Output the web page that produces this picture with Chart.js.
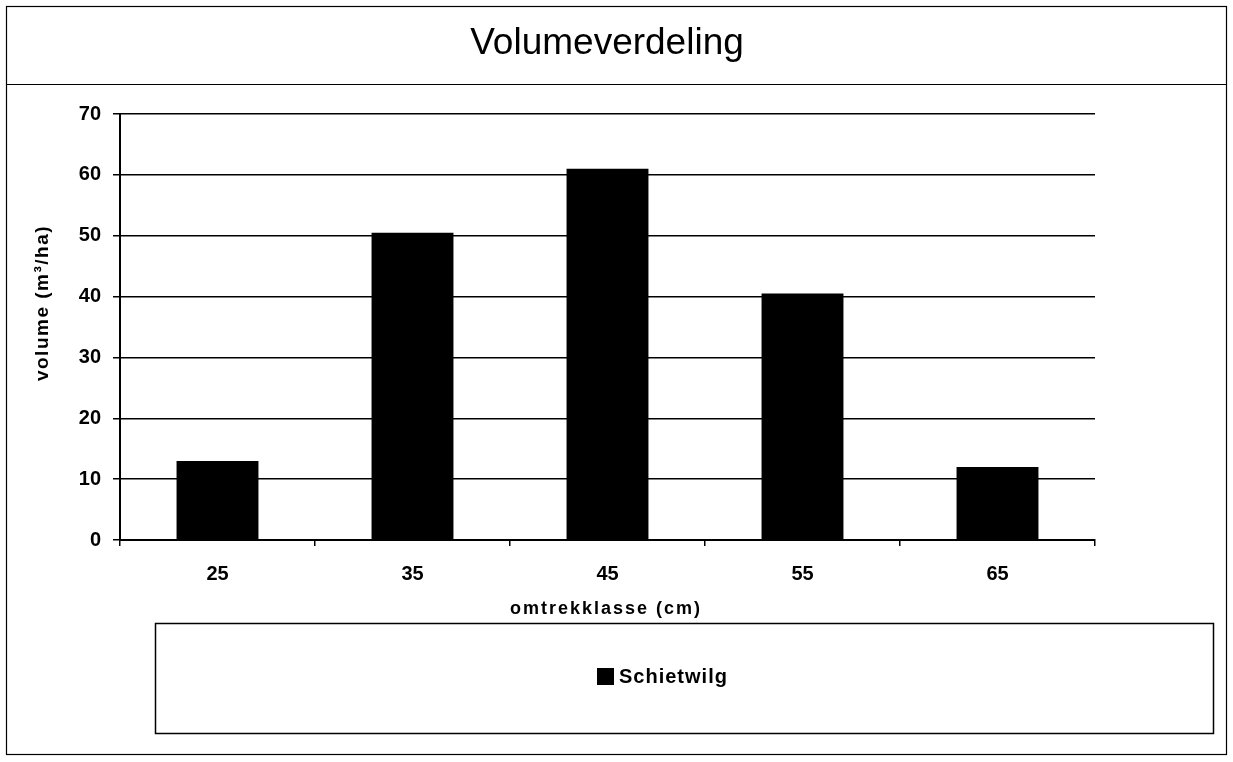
<!DOCTYPE html>
<html>
<head>
<meta charset="utf-8">
<script src="https://cdn.jsdelivr.net/npm/chart.js@4"></script>
<style>
  html, body { margin: 0; padding: 0; background: #fff; }
  #wrap { width: 1233px; height: 762px; }
</style>
</head>
<body>
<div id="wrap"><canvas id="volChart" width="1233" height="762"></canvas></div>
<script>
// gegevens
const klassen = ['25', '35', '45', '55', '65'];
const volumes = [13, 50.5, 61, 40.5, 12];
const reeksNaam = 'Schietwilg';
const xTitel = 'omtrekklasse (cm)';
const yTitel = 'volume (m³/ha)';
const yTicks = [0, 10, 20, 30, 40, 50, 60, 70];

const font = '"Liberation Sans", Arial, sans-serif';

// kader, titels en legende tekenen
const kaderPlugin = {
    id: 'kader',
    afterDraw(chart) {
        const ctx = chart.ctx;
        ctx.save();
        ctx.strokeStyle = '#000';
        ctx.lineWidth = 1.2;
        ctx.strokeRect(6.5, 6.5, 1220, 748);
        ctx.beginPath();
        ctx.moveTo(6, 84.5);
        ctx.lineTo(1227, 84.5);
        ctx.stroke();

        ctx.fillStyle = '#000';
        ctx.font = '37px ' + font;
        ctx.textAlign = 'center';
        ctx.textBaseline = 'middle';
        ctx.fillText('Volumeverdeling', 607, 44);

        // x-as titel met wat letterafstand
        ctx.font = 'bold 18px ' + font;
        ctx.letterSpacing = '2px';
        ctx.fillText(xTitel, 606, 609);

        // y-as titel, gedraaid
        ctx.save();
        ctx.translate(43, 303);
        ctx.rotate(-Math.PI / 2);
        ctx.font = 'bold 19px ' + font;
        ctx.letterSpacing = '1.5px';
        ctx.fillText(yTitel, 0, 0);
        ctx.restore();

        // legende
        ctx.lineWidth = 1.5;
        ctx.strokeRect(155.5, 623.5, 1058, 110);
        ctx.fillRect(597, 668, 17, 17);
        ctx.font = 'bold 20px ' + font;
        ctx.letterSpacing = '1px';
        ctx.textAlign = 'left';
        ctx.fillText(reeksNaam, 619, 677);
        ctx.restore();
    }
};

new Chart(document.getElementById('volChart'), {
    type: 'bar',
    data: {
        labels: klassen,
        datasets: [{
            label: reeksNaam,
            data: volumes,
            backgroundColor: '#000',
            borderWidth: 0,
            barPercentage: 0.42,
            categoryPercentage: 1
        }]
    },
    options: {
        responsive: false,
        animation: false,
        layout: {
            padding: { left: 10, right: 138, top: 114, bottom: 140 }
        },
        plugins: {
            legend: { display: false },
            title: { display: false },
            tooltip: { enabled: false }
        },
        scales: {
            x: {
                grid: {
                    display: true,
                    offset: true,
                    drawOnChartArea: false,
                    color: '#000',
                    tickLength: 6,
                    lineWidth: 1.5
                },
                border: { color: '#000', width: 2 },
                ticks: {
                    color: '#000',
                    font: { family: font, size: 20, weight: 'bold' },
                    padding: 16
                },
                afterFit(scale) { scale.height = 82; }
            },
            y: {
                min: 0,
                max: 70,
                afterBuildTicks(scale) {
                    scale.ticks = yTicks.map(v => ({ value: v }));
                },
                grid: {
                    color: '#000',
                    lineWidth: 1.5,
                    tickLength: 7
                },
                border: { color: '#000', width: 2 },
                ticks: {
                    color: '#000',
                    font: { family: font, size: 20, weight: 'bold' },
                    padding: 12
                },
                afterFit(scale) { scale.width = 110; }
            }
        }
    },
    plugins: [kaderPlugin]
});
</script>
</body>
</html>
